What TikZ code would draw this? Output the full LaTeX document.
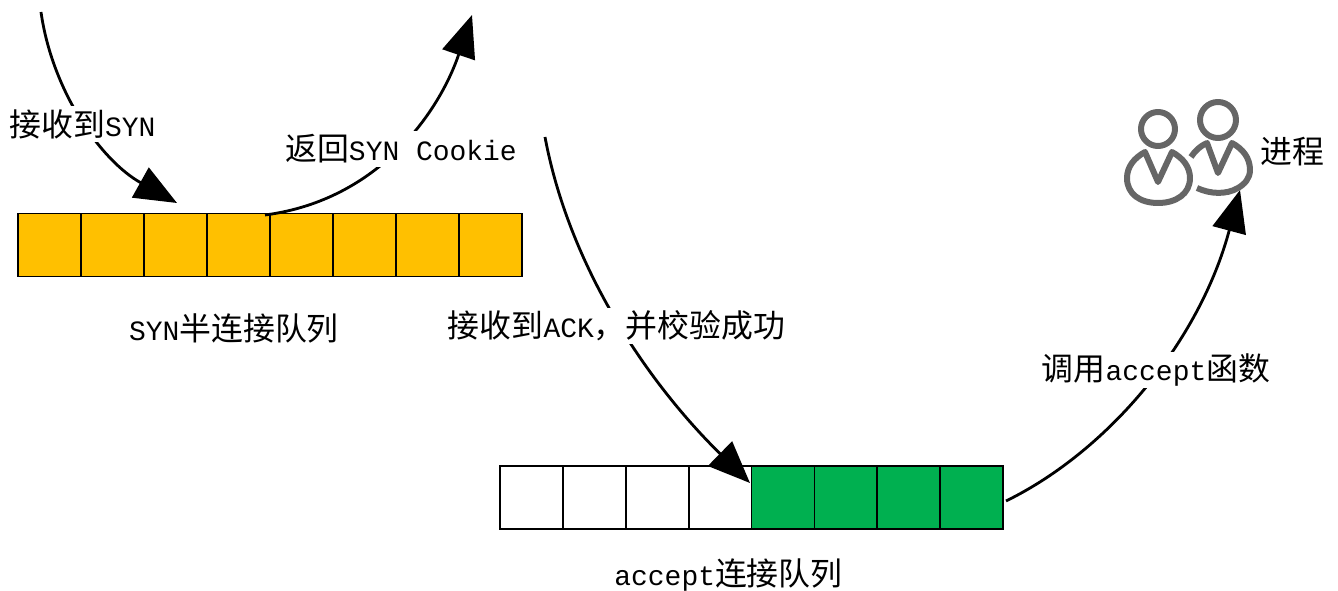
\documentclass[tikz,border=0pt]{standalone}
\usepackage{fontspec}
\setmainfont{Liberation Mono}
\newfontfamily\cjk[Scale=1.14]{Noto Sans CJK SC}
\usetikzlibrary{arrows.meta}
\definecolor{synorange}{HTML}{FFC000}
\definecolor{acceptgreen}{HTML}{00B050}
\definecolor{icongray}{HTML}{666666}
\tikzset{
    cell/.style={draw=black, line width=0.5pt, minimum width=0.63cm, minimum height=0.63cm, inner sep=0pt, outer sep=0pt},
    flow/.style={line width=0.8pt, -{Triangle[length=0.42cm, width=0.34cm]}},
    caption/.style={font=\fontsize{7.95}{9}\selectfont, inner sep=0pt, minimum height=0.36cm},
    tag/.style={caption, fill=white},
    usericon/.style={draw=icongray, line width=0.06cm, line join=round},
}

\begin{document}
\begin{tikzpicture}[x=0.01cm, y=-0.01cm]
        \useasboundingbox (0,0) rectangle (1338,591);
        \foreach \i in {1,...,8}
            \node[cell, fill=synorange] (syn\i) at ({18+63*(\i-0.5)},245) {};
        \foreach \i in {1,...,4}
            \node[cell, fill=white] (acc\i) at ({500+62.9*(\i-0.5)},497.5) {};
        \foreach \i in {5,...,8}
            \node[cell, fill=acceptgreen] (acc\i) at ({500+62.9*(\i-0.5)},497.5) {};
        \coordinate (clientout) at (41,12);
        \coordinate (synin) at (177,203);
        \coordinate (clientin) at (472,15);
        \coordinate (ackout) at (545,137);
        \coordinate (ackin) at (750,483);
        \coordinate (procin) at (1240,190);
        \coordinate (cookieout) at (265,215);
        \coordinate (accout) at (1006,501);
        \draw[flow] (clientout) .. controls (52,90) and (100,160) .. (synin);
        \draw[flow] (cookieout) .. controls (380,200) and (440,110) .. (clientin);
        \draw[flow] (ackout) .. controls (570,270) and (650,385) .. (ackin);
        \draw[flow] (accout) .. controls (1110,450) and (1200,340) .. (procin);
        \node[tag] (synlabel) at (82.5,124) {{\cjk 接收到}SYN};
        \node[tag] (cookielabel) at (401,149) {{\cjk 返回}SYN Cookie};
        \node[caption] (synqueue) at (234,328) {SYN{\cjk 半连接队列}};
        \node[tag] (acklabel) at (616.5,326) {{\cjk 接收到}ACK{\cjk ，并校验成功}};
        \node[tag] (calllabel) at (1156,370) {{\cjk 调用}accept{\cjk 函数}};
        \node[caption] (acceptqueue) at (728.5,575) {accept{\cjk 连接队列}};
        \node[caption] (proclabel) at (1292,152) {{\cjk 进程}};
        \draw[usericon] (1158,129) circle[radius=17];
        \draw[usericon] (1218,120) circle[radius=18];
        \draw[usericon] (1145,152) -- (1158,182) -- (1172,152)
            .. controls (1183,158) and (1190,167) .. (1190,178)
            .. controls (1190,194) and (1176,203) .. (1158,203)
            .. controls (1140,203) and (1127,194) .. (1127,178)
            .. controls (1127,167) and (1134,158) .. cycle;
        \draw[usericon] (1191,157) .. controls (1195,151) and (1200,146) .. (1207,143)
            -- (1218,173) -- (1232,143)
            .. controls (1243,149) and (1250,158) .. (1250,170)
            .. controls (1250,178) and (1245,184) .. (1238,188)
            .. controls (1226,195) and (1210,194) .. (1197,188);
    \end{tikzpicture}
\end{document}
